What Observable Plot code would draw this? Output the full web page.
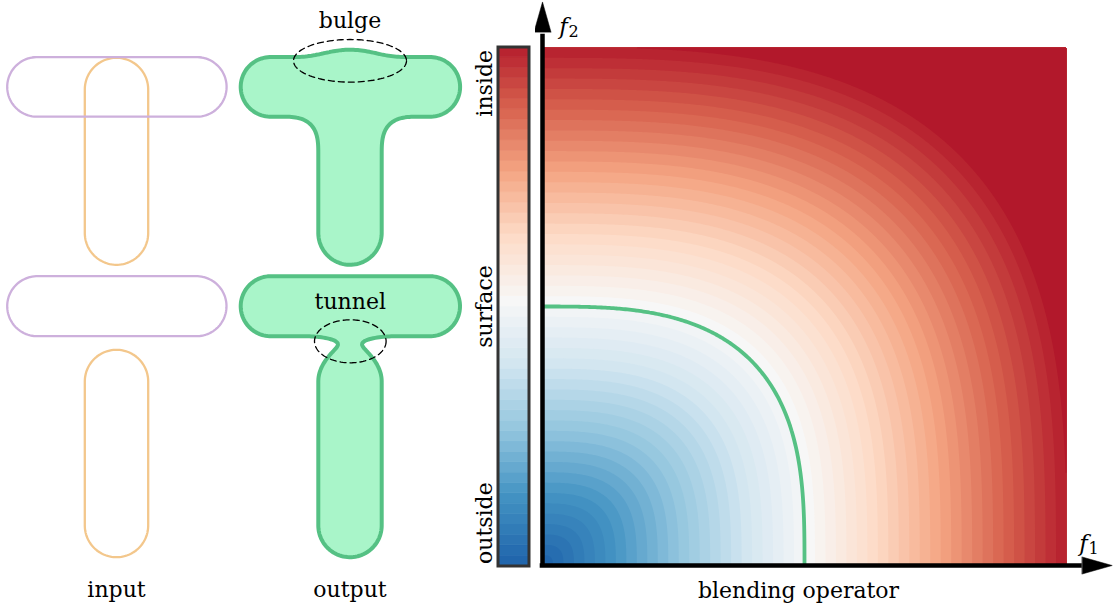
<!DOCTYPE html>
<html><head><meta charset="utf-8">
<script src="https://cdn.jsdelivr.net/npm/d3@7"></script>
<script src="https://cdn.jsdelivr.net/npm/@observablehq/plot@0.6"></script>
<style>
html,body{margin:0;padding:0;background:#fff;}
#fig{position:relative;width:1113px;height:607px;overflow:hidden;}
#fig > svg{position:absolute;top:0;}
</style></head><body><div id="fig"></div>
<script>
// ---------- data ----------
const blendExponent = 3;          // p-norm blending operator
const surfaceLevel = 0.5;         // iso value of the surface
const levelStep = 0.02;           // contour band width
const colorStops = ["#2166ac","#4393c3","#92c5de","#d1e5f0","#f7f7f7","#fddbc7","#f4a582","#d6604d","#b2182b"];
const colorbarLabels = [
  {label: "outside", value: 0},
  {label: "surface", value: 0.5},
  {label: "inside", value: 1}
];
const axisNames = [
  {axis: "x", symbol: "f", index: "1"},
  {axis: "y", symbol: "f", index: "2"}
];
const xTitle = "blending operator";
// input primitives (capsules: segment a-b, radius r) in illustration units
const inputCapsules = [
  {row: "top", part: "stem", ax: 116, ay: 89, bx: 116, by: 232.6, r: 31.7},
  {row: "top", part: "bar", ax: 36.5, ay: 86.4, bx: 196.3, by: 86.4, r: 29.8},
  {row: "bottom", part: "stem", ax: 116, ay: 381, bx: 116, by: 525, r: 31.7},
  {row: "bottom", part: "bar", ax: 36.7, ay: 305.7, bx: 196, by: 305.7, r: 30}
];
const outputOffset = 233.5;
const fieldFalloff = 75;
const annotations = [
  {label: "bulge", row: "top", cx: 349.5, cy: 60.3, rx: 56.5, ry: 21.3},
  {label: "tunnel", row: "bottom", cx: 349.8, cy: 340.8, rx: 35.8, ry: 21.5}
];
const columnLabels = [{label: "input", shift: 0}, {label: "output", shift: outputOffset}];

// ---------- helpers ----------
const FONT = "DejaVu Serif";
const GREEN = "#55c184", GREEN_FILL = "#a9f5c9";
const partColor = {bar: "#cdb0dc", stem: "#f3c78c"};
const p = blendExponent;
const blend = (a, b) => Math.pow(Math.pow(Math.abs(a), p) + Math.pow(Math.abs(b), p), 1 / p);
function sdCapsule(c, x, y) {
  const dx = c.bx - c.ax, dy = c.by - c.ay, px = x - c.ax, py = y - c.ay;
  const h = Math.max(0, Math.min(1, (px * dx + py * dy) / (dx * dx + dy * dy)));
  return Math.hypot(px - dx * h, py - dy * h) - c.r;
}
const field = sd => Math.max(0, Math.min(1, surfaceLevel - sd / fieldFalloff));
const rows = ["top", "bottom"];
const stemOf = row => inputCapsules.find(c => c.row === row && c.part === "stem");
const barOf = row => inputCapsules.find(c => c.row === row && c.part === "bar");
function bounds(caps, shift, pad) {
  return {
    x1: d3.min(caps, c => Math.min(c.ax, c.bx) - c.r) + shift - pad,
    x2: d3.max(caps, c => Math.max(c.ax, c.bx) + c.r) + shift + pad,
    y1: d3.min(caps, c => Math.min(c.ay, c.by) - c.r) - pad,
    y2: d3.max(caps, c => Math.max(c.ay, c.by) + c.r) + pad
  };
}
function ellipse(a) {
  return d3.range(0, 121).map(i => {
    const t = i / 120 * 2 * Math.PI;
    return {x: a.cx + a.rx * Math.cos(t), y: a.cy + a.ry * Math.sin(t)};
  });
}

const fig = document.getElementById("fig");

// ---------- left: input / output illustration ----------
const leftW = 480;
const leftMarks = [];
for (const c of inputCapsules) {
  leftMarks.push(Plot.contour({
    value: (x, y) => -sdCapsule(c, x, y), ...bounds([c], 0, 6),
    thresholds: [0], fill: "none", stroke: partColor[c.part], strokeWidth: 2.3
  }));
}
for (const row of rows) {
  const bar = barOf(row), stem = stemOf(row);
  leftMarks.push(Plot.contour({
    value: (x, y) => blend(field(sdCapsule(bar, x - outputOffset, y)), field(sdCapsule(stem, x - outputOffset, y))),
    ...bounds([bar, stem], outputOffset, 14),
    thresholds: [surfaceLevel], fill: GREEN_FILL, stroke: GREEN, strokeWidth: 4
  }));
}
for (const a of annotations) {
  leftMarks.push(Plot.line(ellipse(a), {x: "x", y: "y", stroke: "black", strokeWidth: 1.3, strokeDasharray: "6,4"}));
}
leftMarks.push(Plot.text(annotations, {x: "cx", y: a => a.cy - a.ry - 18 - (a.row === "top" ? 1 : 0), text: "label", fontFamily: FONT, fontSize: 22, fill: "black"}));
leftMarks.push(Plot.text(columnLabels, {x: d => stemOf("bottom").ax + d.shift, y: d => d3.max(inputCapsules, c => c.by + c.r), dy: 33, text: "label", fontFamily: FONT, fontSize: 22, fill: "black"}));

const left = Plot.plot({
  width: leftW, height: 607, margin: 0,
  x: {domain: [0, leftW], axis: null},
  y: {domain: [0, 607], reverse: true, axis: null},
  style: {background: "transparent"},
  marks: leftMarks
});
left.style.left = "0px";
fig.appendChild(left);

// ---------- colour scale shared ----------
const colorScale = {type: "linear", domain: colorStops.map((_, i) => i / (colorStops.length - 1)), range: colorStops, clamp: true};
const bands = d3.range(0, 1 - 1e-9, levelStep);
const thresholds = d3.range(0, 1 + 1e-9, levelStep);

// ---------- colorbar ----------
const cb = Plot.plot({
  width: 95, height: 607, marginLeft: 57.5, marginRight: 6.5, marginTop: 46.5, marginBottom: 41.5,
  x: {axis: null}, y: {domain: [0, 1], axis: null},
  color: colorScale,
  style: {background: "transparent"},
  marks: [
    Plot.rect(bands, {y1: d => d, y2: d => d + levelStep, fill: d => d, stroke: d => d, strokeWidth: 0.6}),
    Plot.frame({stroke: "#333", strokeWidth: 3}),
    ...colorbarLabels.map(l => Plot.text([l], {
      y: "value", text: "label", frameAnchor: "left", rotate: -90, dx: -13,
      dy: l.value === 1 ? 3 : l.value === 0 ? -2 : 0,
      textAnchor: l.value === 1 ? "end" : l.value === 0 ? "start" : "middle",
      fontFamily: FONT, fontSize: 22, fill: "black"
    }))
  ]
});
cb.style.left = "440px";
fig.appendChild(cb);

// ---------- heat map of the blending operator ----------
const axisReach = 1.03;
const arrowHead = {draw(context, l, r) { context.moveTo(-r, 0); context.lineTo(0, -l); context.lineTo(r, 0); context.closePath(); }};
const heat = Plot.plot({
  width: 578, height: 607, marginLeft: 7, marginRight: 47, marginTop: 47, marginBottom: 42,
  x: {domain: [0, 1], axis: null}, y: {domain: [0, 1], axis: null},
  color: colorScale,
  style: {background: "transparent"},
  marks: [
    Plot.contour({fill: (x, y) => blend(x, y), x1: 0, y1: 0, x2: 1, y2: 1, thresholds, stroke: "none"}),
    Plot.contour({value: (x, y) => blend(x, y), x1: -0.05, y1: -0.05, x2: 1.05, y2: 1.05,
      thresholds: [surfaceLevel], fill: "none", stroke: GREEN, strokeWidth: 3.8, clip: true}),
    Plot.ruleX([0], {y1: 0, y2: axisReach, stroke: "black", strokeWidth: 4.5, insetBottom: -2.3}),
    Plot.ruleY([0], {x1: 0, x2: axisReach, stroke: "black", strokeWidth: 4.5, insetLeft: -2.3}),
    Plot.vector(axisNames, {
      x: d => d.axis === "x" ? axisReach : 0, y: d => d.axis === "y" ? axisReach : 0,
      rotate: d => d.axis === "x" ? 90 : 0, length: 30, r: 8.5, anchor: "start",
      shape: arrowHead, fill: "black", stroke: "black", strokeWidth: 0.5
    }),
    Plot.text(axisNames.filter(d => d.axis === "y"), {x: 0, y: 1, text: "symbol", dx: 21, dy: -21, fontStyle: "italic", fontFamily: FONT, fontSize: 23, fill: "black"}),
    Plot.text(axisNames.filter(d => d.axis === "y"), {x: 0, y: 1, text: "index", dx: 31, dy: -16, fontFamily: FONT, fontSize: 16, fill: "black"}),
    Plot.text(axisNames.filter(d => d.axis === "x"), {x: 1, y: 0, text: "symbol", dx: 17, dy: -22, fontStyle: "italic", fontFamily: FONT, fontSize: 23, fill: "black"}),
    Plot.text(axisNames.filter(d => d.axis === "x"), {x: 1, y: 0, text: "index", dx: 27, dy: -17, fontFamily: FONT, fontSize: 16, fill: "black"}),
    Plot.text([xTitle], {x: 0.5, frameAnchor: "bottom", text: d => d, dx: -6, dy: 32, fontFamily: FONT, fontSize: 22, fill: "black"})
  ]
});
heat.style.left = "535px";
fig.appendChild(heat);
</script></body></html>
